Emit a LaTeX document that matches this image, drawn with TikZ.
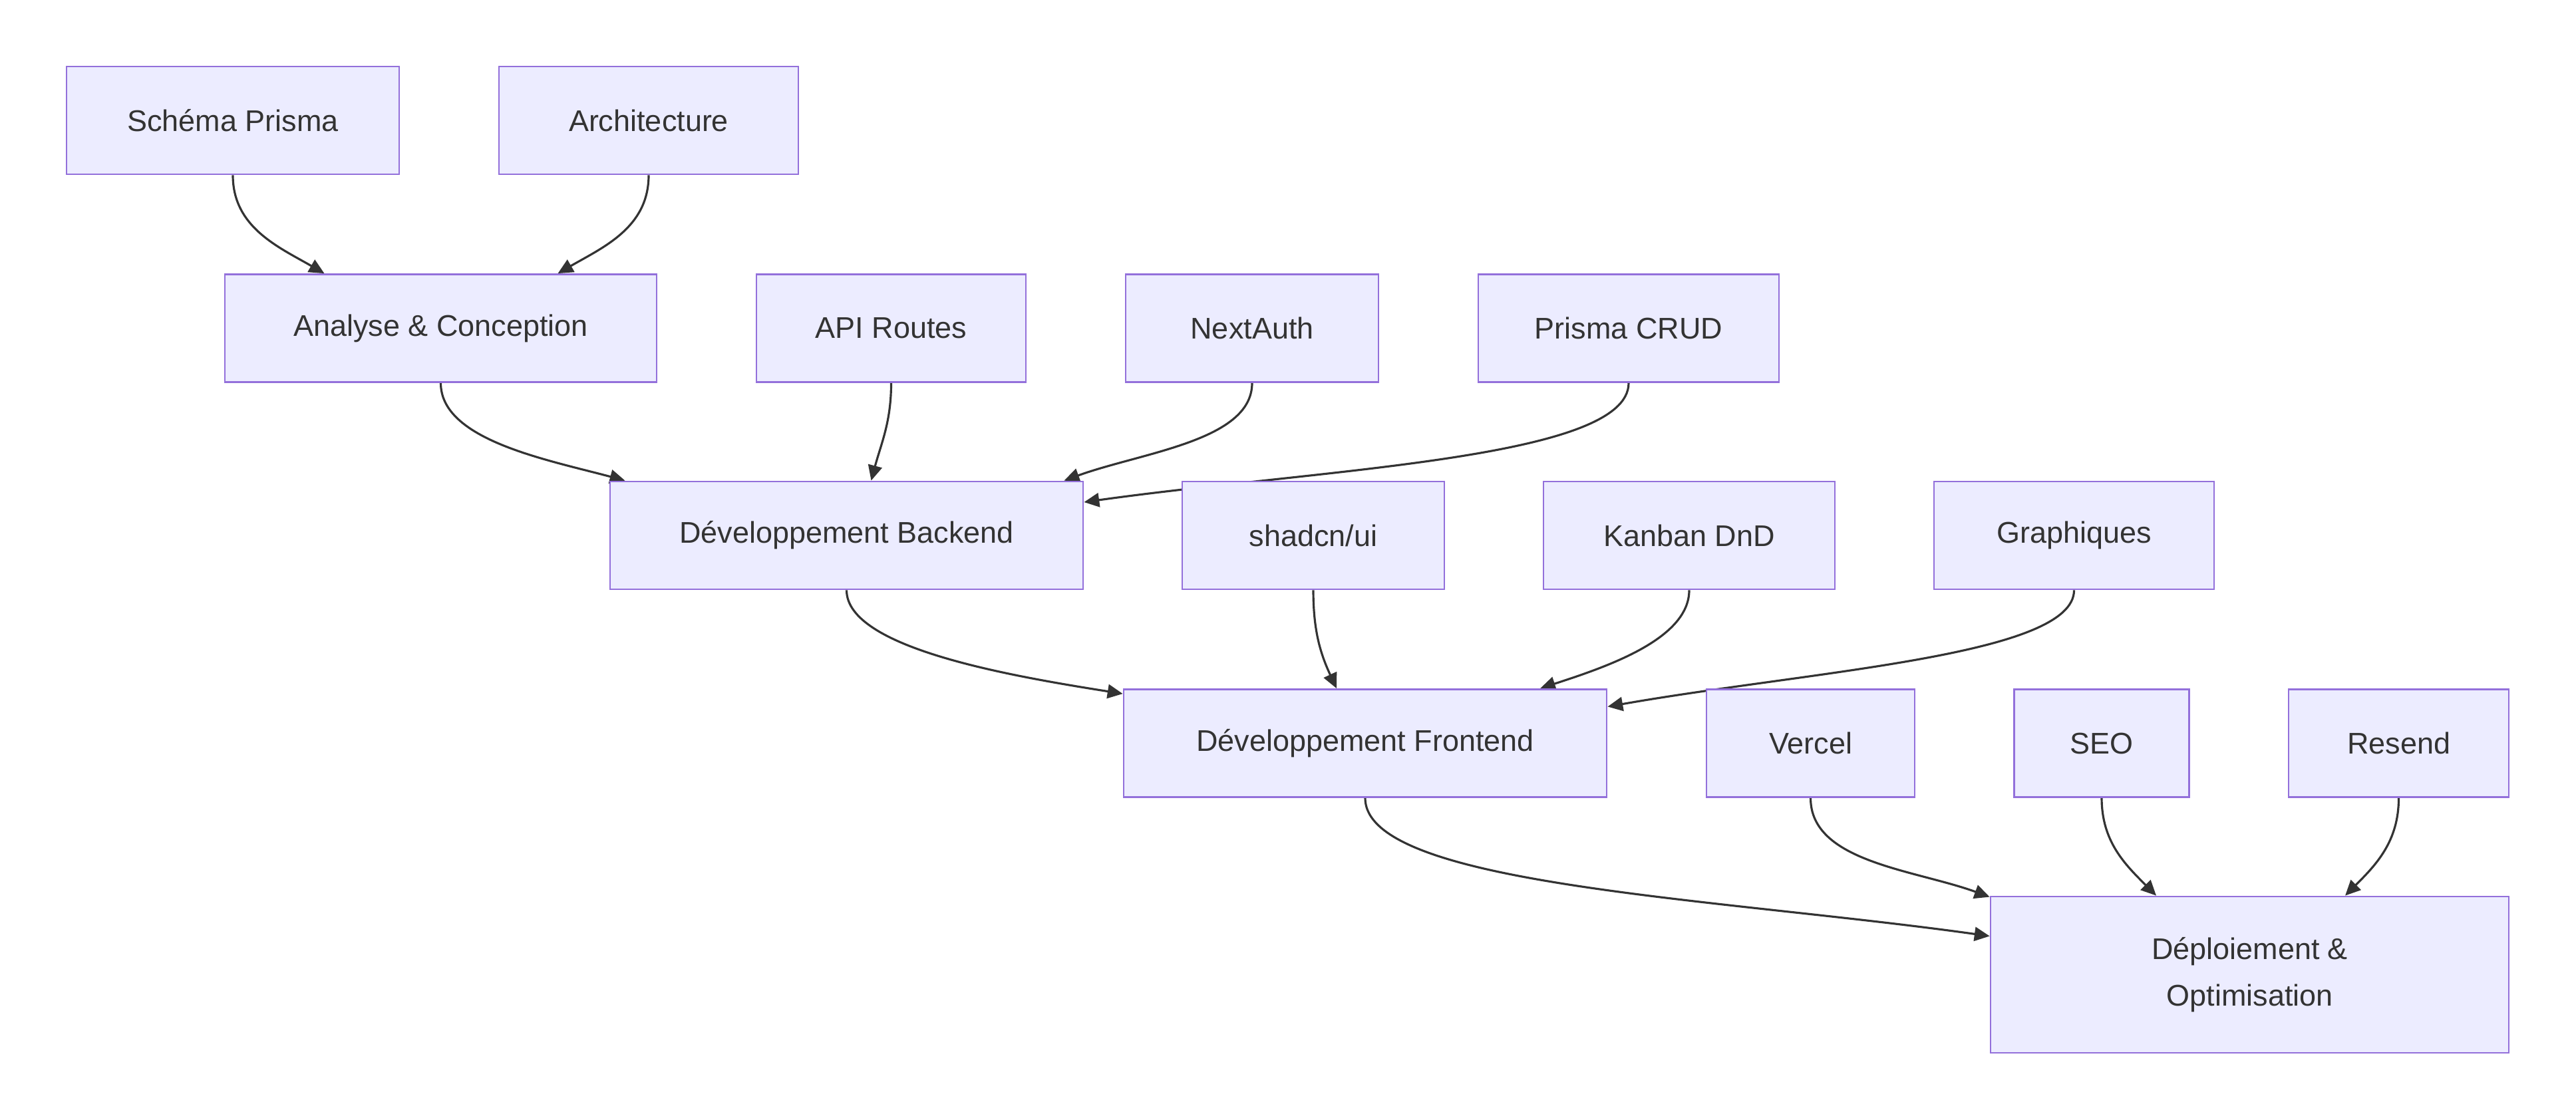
\documentclass[tikz,border=0pt]{standalone}
\usepackage{fontspec}
\setmainfont{Liberation Sans}
\usetikzlibrary{arrows.meta,positioning,calc,backgrounds}
\definecolor{Ink}{HTML}{333333}
\definecolor{Lilac}{HTML}{ECECFF}
\definecolor{Violet}{HTML}{9370DB}
\tikzset{
  >={Triangle[length=6.5pt,width=6pt]},
  box/.style={rectangle,draw=Violet,line width=.8pt,fill=Lilac,text=Ink,minimum height=1.62cm,inner sep=0pt,align=center,font=\fontsize{12.8}{20}\selectfont},
  flow/.style={->,line width=.9pt,draw=Ink},
  longflow/.style={flow,out looseness=.35,in looseness=1.1}
}
\begin{document}
\begin{tikzpicture}[x=1cm,y=1cm]
  \useasboundingbox (0,0) rectangle (38.72,-16.83);
  % row 1
  \node[box,minimum width=5.00cm] (schema) at (3.50,-1.81) {Schéma Prisma};
  \node[box,minimum width=4.50cm] (archi) at (9.75,-1.81) {Architecture};
  % row 2
  \node[box,minimum width=6.49cm] (analyse) at (6.625,-4.935) {Analyse \& Conception};
  \node[box,minimum width=4.05cm] (api) at (13.395,-4.935) {API Routes};
  \node[box,minimum width=3.80cm] (nextauth) at (18.82,-4.935) {NextAuth};
  \node[box,minimum width=4.52cm] (crud) at (24.48,-4.935) {Prisma CRUD};
  % row 3
  \node[box,minimum width=7.11cm] (backend) at (12.725,-8.05) {Développement Backend};
  \node[box,minimum width=3.94cm] (shadcn) at (19.74,-8.05) {shadcn/ui};
  \node[box,minimum width=4.38cm] (kanban) at (25.39,-8.05) {Kanban DnD};
  \node[box,minimum width=4.21cm] (graph) at (31.175,-8.05) {Graphiques};
  % row 4
  \node[box,minimum width=7.26cm] (frontend) at (20.52,-11.175) {Développement Frontend};
  \node[box,minimum width=3.13cm] (vercel) at (27.215,-11.175) {Vercel};
  \node[box,minimum width=2.63cm] (seo) at (31.59,-11.175) {SEO};
  \node[box,minimum width=3.31cm] (resend) at (36.055,-11.175) {Resend};
  % row 5
  \node[box,minimum width=7.79cm,minimum height=2.35cm] (deploy) at (33.815,-14.655) {Déploiement \&\\Optimisation};

  \begin{scope}[on background layer]
    \draw[flow] (schema.south) to[out=-90,in=150] ($(analyse.north)+(-1.75,0)$);
    \draw[flow] (archi.south) to[out=-90,in=30] ($(analyse.north)+(1.76,0)$);
    \draw[flow,out looseness=.7] (analyse.south) to[out=-90,in=165] ($(backend.north)+(-3.33,0)$);
    \draw[flow] (api.south) to[out=-90,in=75] ($(backend.north)+(.37,0)$);
    \draw[flow,out looseness=.7] (nextauth.south) to[out=-90,in=20] ($(backend.north)+(3.27,0)$);
    \draw[longflow] (crud.south) to[out=-90,in=8] ($(backend.east)+(0,.5)$);
    \draw[flow,out looseness=.5] (backend.south) to[out=-90,in=171] ($(frontend.north west)+(0,-.08)$);
    \draw[flow] (shadcn.south) to[out=-90,in=115] ($(frontend.north)+(-.43,0)$);
    \draw[flow,out looseness=.7] (kanban.south) to[out=-90,in=18] ($(frontend.north)+(2.63,0)$);
    \draw[longflow] (graph.south) to[out=-90,in=10] ($(frontend.east)+(0,.55)$);
    \draw[longflow] (frontend.south) to[out=-90,in=172] ($(deploy.west)+(0,.58)$);
    \draw[flow,out looseness=.8] (vercel.south) to[out=-90,in=160] ($(deploy.north west)+(0,-.02)$);
    \draw[flow] (seo.south) to[out=-90,in=135] ($(deploy.north)+(-1.405,0)$);
    \draw[flow] (resend.south) to[out=-90,in=45] ($(deploy.north)+(1.435,0)$);
  \end{scope}
\end{tikzpicture}
\end{document}
